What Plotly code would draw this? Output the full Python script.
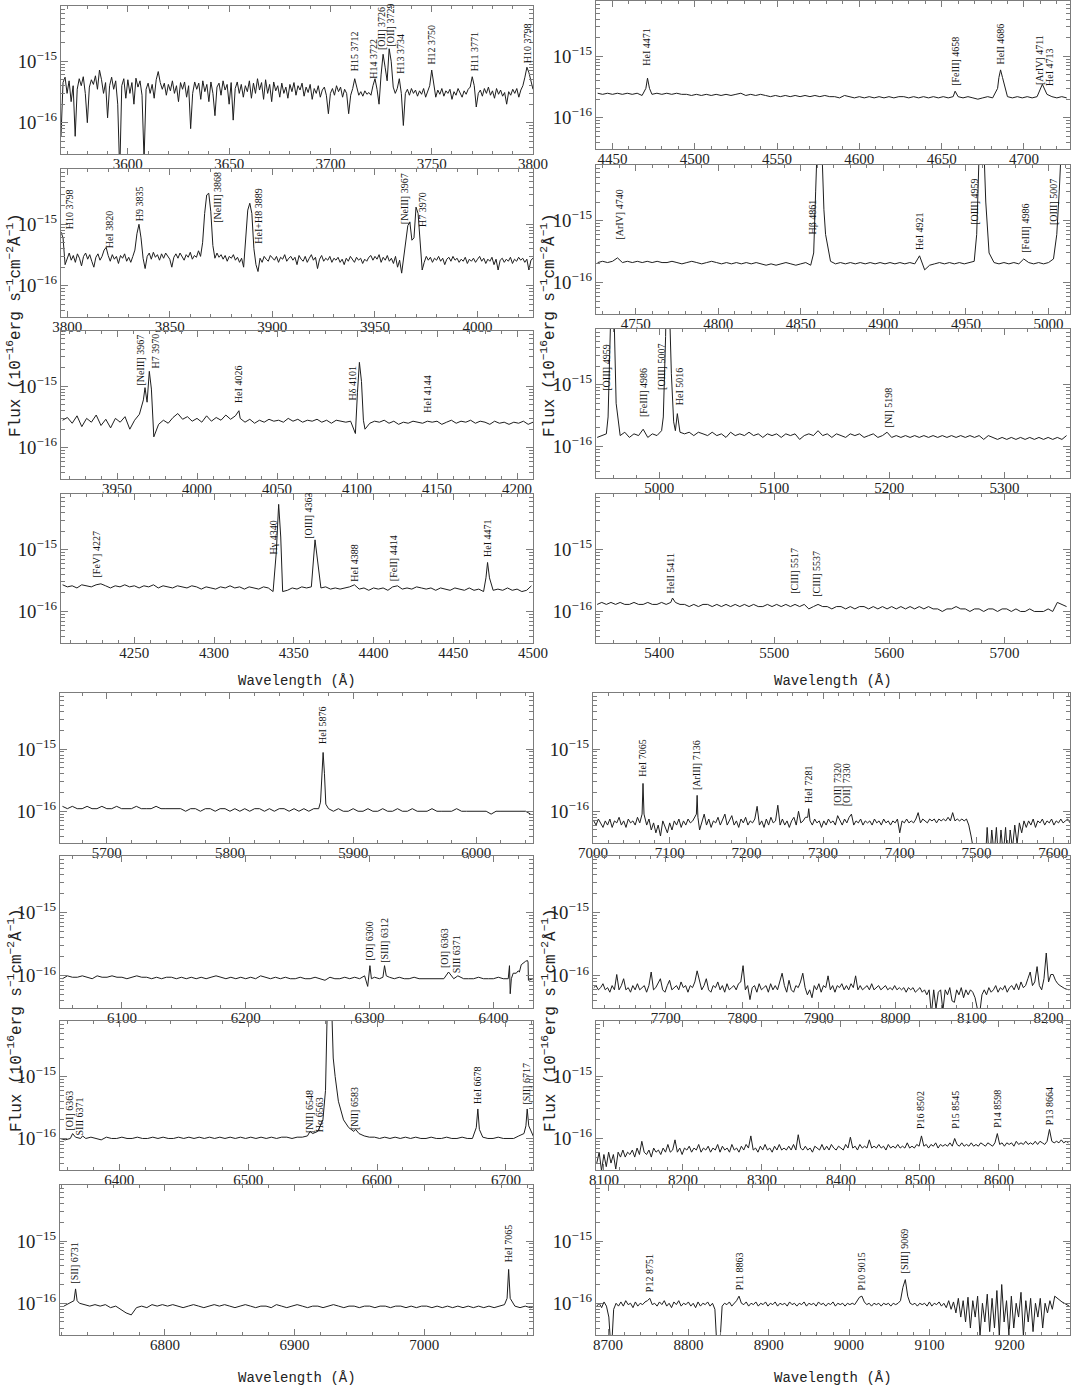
import numpy as np
import plotly.graph_objects as go

UNIT = 1e-17  # flux values below are in units of 1e-17 erg/s/cm2/A

# ---------------- Panel 1 (1 A sampling) ----------------
p01_range = [3567, 3800]
p01_w0, p01_dw = 3567, 1
p01_f = [6, 45, 55, 30, 48, 22, 40, 6, 35, 52, 40, 56, 30, 10, 38, 50, 42, 58, 35, 72,
         50, 30, 45, 12, 40, 55, 35, 48, 20, 1.5, 40, 52, 25, 50, 30, 45, 20, 53, 38, 48,
         28, 2.5, 35, 44, 30, 42, 25, 50, 68, 45, 35, 44, 28, 42, 33, 48, 30, 40, 22, 45,
         35, 46, 26, 40, 8, 30, 46, 35, 44, 24, 48, 32, 42, 22, 46, 30, 13, 38, 44, 28,
         48, 34, 42, 20, 45, 11, 36, 46, 30, 42, 26, 40, 32, 48, 25, 44, 30, 52, 34, 45,
         24, 50, 30, 42, 22, 46, 33, 40, 26, 44, 30, 38, 25, 42, 32, 45, 28, 40, 34, 44,
         27, 38, 31, 42, 24, 36, 30, 40, 26, 34, 38, 28, 14, 30, 36, 28, 40, 32, 38, 26,
         35, 30, 14, 28, 36, 52, 38, 28, 32, 27, 33, 29, 31, 28, 40, 52, 35, 20, 60, 130,
         80, 48, 160, 100, 38, 30, 36, 52, 30, 9, 30, 35, 28, 36, 30, 34, 27, 33, 29, 36,
         26, 32, 40, 72, 42, 26, 34, 29, 36, 27, 33, 30, 35, 24, 32, 28, 36, 30, 26, 33,
         29, 35, 38, 56, 40, 18, 30, 34, 27, 36, 30, 38, 28, 33, 25, 36, 29, 34, 27, 31,
         20, 32, 28, 35, 30, 36, 26, 34, 40, 55, 80, 65, 45, 35]
p01_xw = []
p01_xf = []
p01_lab = ["H15 3712", "H14 3722", "[OII] 3726", "[OII] 3729", "H13 3734", "H12 3750", "H11 3771", "H10 3798"]
p01_lab_w = [3712, 3721.5, 3725.6, 3729.6, 3734.5, 3750, 3771, 3797]
p01_lab_f = [6.3e-16, 4.8e-16, 1.4e-15, 1.6e-15, 5.9e-16, 8.1e-16, 6.3e-16, 8.6e-16]

# ---------------- Panel 2 (1 A sampling) ----------------
p02_range = [3797, 4027]
p02_w0, p02_dw = 3797, 1
p02_f = [75, 60, 22, 28, 34, 26, 31, 24, 33, 28, 21, 30, 34, 27, 32, 25, 20, 29, 33, 26,
         30, 38, 42, 31, 25, 32, 27, 30, 23, 31, 28, 33, 25, 29, 24, 30, 38, 70, 100, 60,
         28, 19, 30, 34, 27, 35, 29, 32, 26, 33, 28, 34, 30, 27, 20, 29, 33, 28, 34, 30,
         26, 32, 29, 35, 27, 31, 29, 37, 30, 50, 150, 300, 320, 160, 45, 28, 34, 29, 32, 27,
         31, 25, 30, 28, 32, 26, 29, 24, 28, 20, 60, 170, 220, 150, 40, 22, 17, 28, 24, 30,
         27, 25, 31, 28, 26, 30, 24, 29, 27, 32, 25, 28, 30, 26, 29, 22, 31, 27, 25, 30,
         24, 28, 32, 26, 29, 19, 27, 31, 25, 28, 26, 30, 24, 28, 26, 29, 24, 27, 22, 28,
         25, 30, 27, 24, 29, 26, 28, 23, 27, 25, 29, 31, 26, 30, 27, 32, 24, 29, 26, 31,
         25, 28, 23, 30, 20, 26, 16, 30, 60, 95, 108, 55, 60, 190, 150, 50, 18, 24, 30, 26,
         29, 24, 28, 26, 30, 25, 28, 22, 27, 29, 25, 30, 26, 28, 24, 27, 25, 29, 23, 27,
         25, 28, 24, 27, 30, 25, 28, 23, 27, 25, 29, 22, 27, 18, 26, 28, 24, 27, 25, 29,
         23, 27, 25, 29, 26, 28, 24, 27, 18, 26, 28]
p02_xw = []
p02_xf = []
p02_lab = ["H10 3798", "HeI 3820", "H9 3835", "[NeIII] 3868", "HeI+H8 3889", "[NeIII] 3967", "H7 3970"]
p02_lab_w = [3801.5, 3820.5, 3835, 3873.5, 3893.5, 3964.5, 3973.5]
p02_lab_f = [7.8e-16, 3.8e-16, 1.06e-15, 1.0e-15, 4.4e-16, 9.4e-16, 8.3e-16]

# ---------------- Panel 3 ----------------
p03_range = [3915, 4210]
p03_w0, p03_dw = 3916, 3
p03_f = [28, 31, 25, 33, 22, 30, 26, 34, 23, 29, 21, 30, 26, 32, 20, 28, 35, 60, 90, 15,
         24, 28, 25, 31, 36, 29, 32, 27, 30, 26, 33, 27, 31, 28, 34, 29, 33, 30, 26, 29,
         25, 28, 26, 29, 27, 28, 26, 30, 27, 29, 26, 28, 27, 29, 26, 28, 25, 28, 27, 26,
         27, 17, 120, 20, 25, 27, 26, 28, 25, 27, 24, 26, 25, 27, 26, 25, 27, 26, 27, 24,
         26, 28, 25, 27, 26, 28, 25, 27, 26, 24, 27, 25, 26, 24, 26, 25, 27, 24, 26]
p03_xw = [3966.5, 3967.5, 3968.8, 3970.2, 3971.5, 4026.2, 4100.3, 4101.5, 4102.8, 4104.0]
p03_xf = [60, 95, 55, 175, 90, 40, 80, 245, 120, 28]
p03_lab = ["[NeIII] 3967", "H7 3970", "HeI 4026", "H\u03b4 4101", "HeI 4144"]
p03_lab_w = [3964.5, 3974, 4025.5, 4097, 4144]
p03_lab_f = [9.4e-16, 1.8e-15, 4.9e-16, 5.5e-16, 3.5e-16]

# ---------------- Panel 4 ----------------
p04_range = [4204, 4500]
p04_w0, p04_dw = 4205, 3
p04_f = [27, 25, 26, 24, 27, 26, 25, 27, 28, 26, 24, 26, 25, 27, 25, 26, 24, 26, 25, 27,
         24, 26, 25, 24, 26, 25, 24, 26, 25, 23, 25, 24, 23, 25, 24, 26, 24, 25, 23, 25,
         24, 23, 25, 24, 21, 200, 21, 22, 24, 23, 25, 24, 25, 60, 24, 25, 23, 24, 23, 24,
         25, 27, 23, 24, 22, 24, 23, 24, 22, 25, 26, 23, 24, 23, 25, 24, 23, 24, 22, 24,
         23, 22, 24, 23, 22, 24, 22, 23, 21, 40, 22, 23, 22, 24, 22, 23, 21, 22, 26]
p04_xw = [4339.0, 4340.5, 4341.8, 4362.2, 4363.3, 4470.5, 4471.5, 4472.7]
p04_xf = [90, 540, 160, 60, 144, 35, 62, 35]
p04_lab = ["[FeV] 4227", "H\u03b3 4340", "[OIII] 4363", "HeI 4388", "[FeII] 4414", "HeI 4471"]
p04_lab_w = [4226, 4337, 4359, 4388, 4413, 4471]
p04_lab_f = [3.3e-16, 7.8e-16, 1.4e-15, 2.85e-16, 2.9e-16, 7.0e-16]

# ---------------- Panel 5 ----------------
p05_range = [4440, 4728]
p05_w0, p05_dw = 4441, 3
p05_f = [25, 24, 25, 24, 25, 24, 25, 24, 25, 23, 30, 24, 25, 24, 25, 24, 25, 24, 24, 23,
         24, 23, 24, 23, 24, 23, 24, 23, 24, 25, 23, 24, 23, 24, 23, 22, 23, 22, 23, 22,
         23, 22, 23, 22, 23, 22, 23, 22, 22, 21, 23, 22, 21, 22, 21, 22, 21, 22, 21, 22,
         21, 22, 22, 21, 22, 21, 22, 21, 22, 21, 22, 21, 22, 22, 21, 22, 21, 20, 21, 22,
         21, 30, 40, 22, 21, 22, 21, 22, 21, 22, 30, 24, 22, 21, 22, 21]
p05_xw = [4470.3, 4471.3, 4472.5, 4658.2, 4684.8, 4685.8, 4687.0, 4711.2, 4713.2]
p05_xf = [30, 44, 30, 27, 45, 60, 45, 35, 27]
p05_lab = ["HeI 4471", "[FeIII] 4658", "HeII 4686", "[ArIV] 4711", "HeI 4713"]
p05_lab_w = [4471, 4658, 4686, 4709.5, 4715.5]
p05_lab_f = [6.5e-16, 3.1e-16, 6.9e-16, 3.1e-16, 3.1e-16]

# ---------------- Panel 6 ----------------
p06_range = [4726, 5013]
p06_w0, p06_dw = 4727, 3
p06_f = [21, 22, 21, 22, 25, 21, 22, 21, 22, 21, 22, 21, 22, 21, 21, 22, 21, 20, 21, 22,
         21, 20, 21, 22, 21, 20, 21, 20, 21, 20, 21, 20, 21, 20, 19, 20, 19, 20, 21, 20,
         19, 20, 21, 19, 300, 2000, 60, 22, 20, 21, 20, 21, 20, 21, 20, 21, 20, 21, 20, 21,
         20, 21, 20, 21, 20, 24, 16, 19, 20, 21, 20, 21, 20, 21, 20, 21, 22, 800, 600, 30,
         21, 20, 21, 20, 21, 20, 24, 21, 20, 21, 20, 21, 24, 200, 3000, 8000]
p06_xw = [4857.8, 4860.0, 4861.3, 4862.6, 4864.0, 4921.9, 4956.5, 4957.8, 4959.0, 4960.3, 4962.0,
          5005.0, 5006.5, 5008.0, 5010.0]
p06_xf = [30, 2000, 20000, 2000, 150, 27, 60, 800, 10000, 4000, 200, 60, 300, 3000, 30000]
p06_lab = ["[ArIV] 4740", "H\u03b2 4861", "HeI 4921", "[OIII] 4959", "[FeIII] 4986", "[OIII] 5007"]
p06_lab_w = [4740, 4857, 4921.5, 4955, 4986, 5003]
p06_lab_f = [4.6e-16, 5.5e-16, 3.1e-16, 8.0e-16, 2.8e-16, 8.0e-16]

# ---------------- Panel 7 ----------------
p07_range = [4945, 5357]
p07_w0, p07_dw = 4946, 4
p07_f = [14, 15, 16, 300, 40, 15, 17, 14, 16, 15, 19, 14, 16, 15, 18, 400, 600, 18, 17, 16,
         17, 15, 17, 16, 15, 17, 15, 16, 14, 17, 15, 16, 15, 17, 15, 16, 14, 16, 15, 16,
         14, 16, 15, 16, 13, 15, 16, 15, 18, 15, 16, 14, 16, 15, 14, 16, 15, 16, 14, 15,
         16, 14, 15, 17, 14, 15, 14, 15, 14, 15, 14, 15, 14, 15, 14, 15, 14, 15, 14, 15,
         14, 15, 14, 15, 13, 15, 14, 13, 14, 13, 14, 13, 14, 13, 14, 13, 14, 13, 14, 13,
         14, 13, 15]
p07_xw = [4955.5, 4957.5, 4959.0, 4960.5, 4962.5, 5003.5, 5005.5, 5007.0, 5008.5, 5010.5, 5012.5, 5015.7]
p07_xf = [30, 500, 10000, 2000, 50, 30, 600, 30000, 3000, 150, 25, 34]
p07_lab = ["[OIII] 4959", "[FeIII] 4986", "[OIII] 5007", "HeI 5016", "[NI] 5198"]
p07_lab_w = [4954, 4986.5, 5002, 5017, 5199]
p07_lab_f = [7.5e-16, 2.8e-16, 7.5e-16, 4.3e-16, 1.9e-16]

# ---------------- Panel 8 ----------------
p08_range = [5345, 5757]
p08_w0, p08_dw = 5346, 4
p08_f = [13, 14, 13, 14, 13, 14, 13, 13, 14, 13, 13, 14, 13, 13, 14, 13, 14, 14, 13, 13,
         12, 13, 12, 13, 13, 12, 13, 12, 13, 12, 13, 12, 13, 12, 13, 12, 12, 13, 12, 13,
         12, 13, 12, 13, 12, 13, 11, 12, 13, 12, 12, 11, 12, 12, 11, 12, 11, 12, 12, 11,
         12, 11, 12, 11, 12, 11, 12, 11, 12, 11, 12, 11, 12, 11, 11, 10, 11, 11, 12, 11,
         11, 10, 11, 11, 10, 11, 11, 10, 11, 11, 10, 11, 10, 10, 11, 10, 10, 10, 11, 10,
         14, 13, 12]
p08_xw = [5411.5]
p08_xf = [16.5]
p08_lab = ["HeII 5411", "[CIII] 5517", "[CIII] 5537"]
p08_lab_w = [5410, 5518, 5537]
p08_lab_f = [1.8e-16, 1.8e-16, 1.6e-16]

# ---------------- Panel 9 ----------------
p09_range = [5662, 6046]
p09_w0, p09_dw = 5664, 4
p09_f = [12, 11, 12, 11, 11, 12, 11, 11, 12, 11, 11, 12, 11, 11, 11, 12, 11, 11, 11, 12,
         11, 11, 11, 11, 11, 10, 11, 11, 10, 11, 11, 10, 11, 11, 10, 11, 10, 11, 10, 11,
         11, 10, 11, 10, 11, 11, 10, 11, 10, 11, 10, 11, 11, 11, 11, 10, 11, 10, 10, 11,
         10, 10, 11, 10, 10, 11, 10, 10, 11, 10, 10, 11, 10, 10, 10, 11, 10, 10, 10, 10,
         11, 10, 10, 10, 10, 10, 10, 9, 10, 10, 10, 10, 10, 10, 10, 9]
p09_xw = [5873.5, 5874.6, 5875.6, 5876.7, 5877.8]
p09_xf = [14, 40, 88, 40, 13]
p09_lab = ["HeI 5876"]
p09_lab_w = [5875]
p09_lab_f = [1.13e-15]

# ---------------- Panel 10 (3 A sampling) ----------------
p10_range = [7000, 7622]
p10_w0, p10_dw = 7001, 3
p10_f = [7, 6, 7.5, 6.5, 5.5, 7, 6, 7.5, 5.5, 7, 6.5, 8, 6, 7, 5.5, 7.5, 6.5, 7, 6, 8,
         6.5, 10, 7, 6, 7.5, 5, 6.5, 4.5, 6, 4, 7, 5.5, 4.5, 6.5, 5, 7, 6, 7.5, 5.5, 7,
         6, 7.5, 6.5, 7, 8, 17, 5, 6.5, 9, 6, 7.5, 5.5, 7, 6.5, 8, 6, 7.5, 9, 6, 7,
         8.5, 6, 7, 5.5, 7.5, 6.5, 8, 6, 7, 6.5, 7.5, 12, 6, 7, 5.5, 7.5, 6, 8, 6.5, 7,
         12.5, 6, 7.5, 6, 7, 5.5, 7, 8, 6, 10, 6.5, 7, 8, 8, 7, 6, 7.5, 6.5, 7, 5.5,
         7, 6, 7.5, 6.5, 7, 6, 8.5, 7, 6, 7.5, 6.5, 8, 9, 6, 7, 6.5, 7.5, 6, 7, 6.5,
         7, 6, 7.5, 6.5, 7, 6, 7.5, 6.5, 7, 6, 7, 6.5, 7.5, 4.5, 7, 6.5, 7.5, 6.5, 7, 6.5,
         7.5, 9.5, 6.5, 7.5, 7, 6.5, 7.5, 7, 7.5, 6.5, 7.5, 7, 7.5, 7, 8, 7, 9.5, 7, 7.5, 7,
         7.5, 7, 7.5, 6, 4, 2, 1.5, 2, 1.2, 1.5, 1.2, 5.5, 1.5, 5, 2, 5.5, 1.5, 5, 2, 5.5,
         1.5, 5, 2.5, 6, 3, 6.5, 4.5, 7, 5.5, 7, 6, 7.5, 5.5, 7, 6.5, 7.5, 6, 7, 6.5, 7.5,
         6, 7, 6.5, 7.5, 6.5, 7, 7.5, 6.5]
p10_xw = [7064.0, 7065.2, 7066.5, 7134.8, 7135.8, 7136.8, 7281.3]
p10_xf = [9, 28, 9, 9, 18, 8, 11]
p10_lab = ["HeI 7065", "[ArIII] 7136", "HeI 7281", "[OII] 7320", "[OII] 7330"]
p10_lab_w = [7065, 7135, 7281, 7319, 7331]
p10_lab_f = [3.3e-16, 2.0e-16, 1.28e-16, 1.13e-16, 1.13e-16]

# ---------------- Panel 11 ----------------
p11_range = [6050, 6432]
p11_w0, p11_dw = 6052, 4
p11_f = [9, 10, 9.5, 9.5, 10, 9.5, 9, 10, 9.5, 9.5, 10, 9.5, 9.5, 9, 9.5, 10, 9.5, 9.5, 9, 9.5,
         9, 9.5, 9.5, 9, 9.5, 9, 9.5, 9, 9.5, 9, 9.5, 10, 9.5, 9, 9.5, 9, 9.5, 9, 9.5, 9,
         10, 9.5, 9, 9.5, 9, 9.5, 9, 9, 9.5, 9, 9, 9.5, 9, 8.5, 9.5, 9, 9, 9.5, 9, 9.5,
         9, 10, 9, 9.5, 9, 9, 9.5, 9, 9.5, 9, 9, 9.5, 9, 9, 9, 9, 9, 9, 9, 9,
         9.5, 9, 9, 9, 9.5, 9, 9, 9, 9.5, 9, 9, 11, 12, 16, 9, 9]
p11_xw = [6298.5, 6300.3, 6301.5, 6310.8, 6312.1, 6313.5, 6363.8, 6371.3, 6413.0, 6413.6, 6414.5,
          6418.5, 6421.0, 6422.5, 6426.0, 6427.5, 6428.0, 6428.3]
p11_xf = [6.8, 14.5, 9, 9.5, 14.5, 10, 11.5, 10, 14.5, 5.2, 9, 11, 11.5, 15, 17, 17.5, 16.5, 8.5]
p11_lab = ["[OI] 6300", "[SIII] 6312", "[OI] 6363", "SIII 6371"]
p11_lab_w = [6300, 6312, 6361, 6370]
p11_lab_f = [1.58e-16, 1.49e-16, 1.24e-16, 1.03e-16]

# ---------------- Panel 12 (3 A sampling) ----------------
p12_range = [7605, 8228]
p12_w0, p12_dw = 7606, 3
p12_f = [6.5, 7, 6, 6.5, 7.5, 6, 6.5, 5.5, 7, 6, 10.5, 6, 7, 9, 6, 6.5, 5.5, 7, 6, 7.5,
         6, 6.5, 7, 5.5, 7, 11.5, 6, 6.5, 7.5, 9, 6, 5.5, 7, 8.5, 6, 6.5, 7, 6, 8, 6.5,
         7, 5.5, 7, 6.5, 8, 12, 8, 6, 7, 9, 6, 5.5, 7, 6.5, 8, 6, 7, 5.5, 7.5, 6,
         6.5, 7, 6, 7.5, 8, 14.5, 6, 7, 4.2, 6.5, 7, 5.5, 7.5, 6, 6.5, 7, 5.5, 7.5, 6, 7,
         6, 8, 11, 7, 5.5, 8.5, 6, 5.5, 7, 6.5, 8, 11, 6.5, 5, 6, 4.5, 7, 6, 7.5, 5.5,
         7, 6.5, 10, 6, 7, 5.5, 7, 6.5, 7.5, 6, 7, 6, 7.5, 6.5, 10, 6, 7, 6, 6.5, 7,
         6, 7.5, 6, 6.5, 7, 6, 6.5, 7, 6, 6.5, 6, 7, 6, 6.5, 6, 6.5, 5.5, 6.5, 6, 6.5,
         5.5, 6, 6.5, 5.5, 6, 5, 6, 2.5, 6, 3, 5.5, 6, 2.8, 6, 5, 6.5, 4, 3.8, 6, 5,
         6.5, 4.5, 6, 5, 6, 5.5, 4.5, 3, 2.5, 5, 6, 5, 6.5, 5.5, 6, 7, 5.5, 6.5, 6, 7,
         5.5, 6.5, 7, 6, 7.5, 6, 8, 6.5, 7, 9, 11.5, 7, 8, 14, 7, 6, 9, 23, 8, 10.5,
         10.5, 8.5, 7.5, 7, 6.6, 6.3, 6.1, 6]
p12_xw = []
p12_xf = []
p12_lab = []
p12_lab_w = []
p12_lab_f = []

# ---------------- Panel 13 ----------------
p13_range = [6354, 6721]
p13_w0, p13_dw = 6346, 4
p13_f = [10, 10.5, 10, 9.5, 10, 10.5, 10, 10, 10.5, 10, 9.5, 10.5, 10, 10, 10.5, 10, 10, 10.5, 10, 10,
         10.5, 10, 10.5, 10, 10, 10.5, 10, 10.5, 10, 10.5, 10, 10.5, 10, 10.5, 10, 10.5, 10, 10.5, 10, 10.5,
         10, 10.5, 10, 10.5, 10, 10.5, 10.5, 10, 10.5, 10.5, 11, 12, 13, 20, 500, 200, 40, 20, 15, 13,
         12, 11, 10.5, 10.5, 10, 10.5, 10, 10.5, 10, 10.5, 10, 10.5, 10, 10, 10.5, 10, 10, 10.5, 10, 10,
         10.5, 10, 10, 10, 10.5, 10, 10, 10.5, 10, 10, 10, 11, 12, 11, 10]
p13_xw = [6363.8, 6371.5, 6548.0, 6560.0, 6561.5, 6562.8, 6564.3, 6567.5, 6583.4,
          6677.0, 6678.2, 6679.4, 6715.5, 6716.5, 6717.7]
p13_xf = [12, 11, 13, 60, 2000, 30000, 3000, 100, 14, 15, 30, 14, 16, 30, 16]
p13_lab = ["[OI] 6363", "SIII 6371", "[NII] 6548", "H\u03b1 6563", "[NII] 6583", "HeI 6678", "[SII] 6717"]
p13_lab_w = [6361, 6369, 6547, 6555, 6583, 6678, 6716]
p13_lab_f = [1.25e-16, 1.05e-16, 1.15e-16, 1.15e-16, 1.25e-16, 3.3e-16, 3.3e-16]

# ---------------- Panel 14 (3 A sampling) ----------------
p14_range = [8090, 8690]
p14_w0, p14_dw = 8091, 3
p14_f = [4, 6, 3, 5.5, 3.5, 6, 4, 5.5, 3.2, 6, 5, 6.5, 5, 6, 5.5, 6.5, 5, 7, 5.5, 9,
         6, 5.5, 6.5, 5, 7, 6, 6.5, 5.5, 7, 6, 8, 6, 6.5, 9.5, 6, 7, 5.5, 7, 6.5, 7.5,
         6, 7, 6.5, 8, 6, 7, 6.5, 7.5, 6, 7, 6.5, 8, 6, 7.5, 6.5, 7, 6, 8, 6.5, 7,
         6, 7.5, 6.5, 8, 7, 11, 6.5, 7, 6, 7.5, 6.5, 8, 6.5, 7, 6, 7.5, 6.5, 8, 6.5, 7,
         6.5, 7.5, 6.5, 8, 6.5, 11.5, 7, 6.5, 7.5, 6.5, 7, 6, 7.5, 7, 6.5, 8, 6.5, 7.5, 6.5, 8,
         7, 6.5, 7.5, 7, 6.5, 8, 7, 10.5, 7, 7.5, 6.5, 8, 7, 7.5, 7, 9.5, 7, 7.5, 7, 8,
         7, 7.5, 6.5, 8, 7, 7.5, 7, 8, 7, 7.5, 7, 8.5, 7, 7.5, 7, 8, 7.5, 11, 7.5, 8,
         7, 8, 7.5, 8.5, 7, 8, 7.5, 8, 7.5, 8.5, 7.5, 10, 8, 7.5, 8.5, 7.5, 8, 7.5, 8.5, 7.5,
         8, 7.5, 8.5, 8, 7.5, 8.5, 8, 7.5, 8.5, 12, 8, 8.5, 7.5, 8.5, 8, 8.5, 7.5, 9, 8, 8.5,
         8, 9, 8, 8.5, 8, 9, 8, 9, 8.5, 8, 9, 14, 9, 8.5, 9, 8.5, 9.5, 8.5, 9, 8.5]
p14_xw = []
p14_xf = []
p14_lab = ["P16 8502", "P15 8545", "P14 8598", "P13 8664"]
p14_lab_w = [8501, 8545, 8598, 8664]
p14_lab_f = [1.3e-16, 1.35e-16, 1.4e-16, 1.55e-16]

# ---------------- Panel 15 ----------------
p15_range = [6719, 7084]
p15_w0, p15_dw = 6722, 4
p15_f = [9, 10, 10, 10, 9.5, 9, 9.5, 9, 9.5, 8.5, 9, 8, 7, 6.5, 8.5, 9, 8.5, 9.5, 9, 9.5,
         9, 9.5, 9, 8.5, 9, 9.5, 9, 8.5, 9, 9.5, 9, 9.5, 9, 8.5, 9, 9.5, 9, 8.5, 9, 9,
         8.5, 9.5, 9, 8.5, 9, 9.5, 9, 8.5, 9, 9, 8.5, 9, 9.5, 9, 8.5, 9, 9, 8.5, 9, 9,
         8.5, 9, 9, 8.5, 9, 9, 8.5, 9, 8.5, 9, 9, 8.5, 9, 8.5, 9, 8.5, 9, 8.5, 9, 8.5,
         9, 8.5, 9, 8.5, 9, 9.5, 9, 9, 8.5, 9, 8.5, 9, 8.5]
p15_xw = [6729.8, 6731.0, 6732.2, 7064.0, 7065.2, 7066.4]
p15_xf = [11, 17, 11, 12, 35, 12]
p15_lab = ["[SII] 6731", "HeI 7065"]
p15_lab_w = [6730, 7065]
p15_lab_f = [1.9e-16, 4.3e-16]

# ---------------- Panel 16 (3 A sampling) ----------------
p16_range = [8685, 9275]
p16_w0, p16_dw = 8686, 3
p16_f = [9, 10, 8.5, 10.5, 9, 6, 1.5, 8, 10, 9, 10.5, 9, 11, 9.5, 10, 8.5, 10.5, 9, 10, 9.5,
         10.5, 11, 12, 9.5, 10, 9, 10.5, 9.5, 11, 9, 10, 8.5, 10.5, 9.5, 11, 9, 10, 9.5, 10.5, 9,
         10, 8.5, 10.5, 9, 10, 9.5, 10.5, 9, 10, 8, 1.5, 2, 9, 10, 9.5, 10.5, 9, 10, 11, 13,
         10, 9.5, 10.5, 9, 10, 9.5, 10.5, 9, 10, 9.5, 10.5, 9, 10, 9.5, 10.5, 9, 10, 9.5, 10, 9,
         10.5, 9.5, 10, 9, 10, 9.5, 10.5, 9, 10, 9.5, 10, 9, 10.5, 9.5, 10, 9, 10, 9.5, 10.5, 9,
         10, 9.5, 10, 9, 10, 9.5, 10, 9.5, 11, 12.5, 13, 10.5, 9.5, 10, 9, 10, 9.5, 10, 9, 10,
         9.5, 10, 9, 10, 9.5, 10, 11, 18, 24, 13, 10, 9.5, 10, 9, 10, 9.5, 10, 9, 10.5, 9,
         10, 9.5, 10.5, 9, 10, 8.5, 11, 8, 10.5, 7, 12, 6, 11, 5, 12.5, 4, 11, 6, 13, 3,
         10, 5, 14, 3.5, 12, 4, 16, 3, 20, 5, 11, 3, 13, 4, 10, 6, 15, 3, 11, 5,
         12, 3.5, 10, 6, 12, 4, 10, 7, 11, 8, 13, 12, 11, 10.5, 10, 9.5, 9]
p16_xw = []
p16_xf = []
p16_lab = ["P12 8751", "P11 8863", "P10 9015", "[SIII] 9069"]
p16_lab_w = [8751, 8863, 9015, 9069]
p16_lab_f = [1.4e-16, 1.5e-16, 1.5e-16, 2.8e-16]

# panel order / major-minor x tick spacing (A)
panel_data = [
    (p01_range, p01_w0, p01_dw, p01_f, p01_xw, p01_xf, p01_lab, p01_lab_w, p01_lab_f, 50, 10),
    (p02_range, p02_w0, p02_dw, p02_f, p02_xw, p02_xf, p02_lab, p02_lab_w, p02_lab_f, 50, 10),
    (p03_range, p03_w0, p03_dw, p03_f, p03_xw, p03_xf, p03_lab, p03_lab_w, p03_lab_f, 50, 10),
    (p04_range, p04_w0, p04_dw, p04_f, p04_xw, p04_xf, p04_lab, p04_lab_w, p04_lab_f, 50, 10),
    (p05_range, p05_w0, p05_dw, p05_f, p05_xw, p05_xf, p05_lab, p05_lab_w, p05_lab_f, 50, 10),
    (p06_range, p06_w0, p06_dw, p06_f, p06_xw, p06_xf, p06_lab, p06_lab_w, p06_lab_f, 50, 10),
    (p07_range, p07_w0, p07_dw, p07_f, p07_xw, p07_xf, p07_lab, p07_lab_w, p07_lab_f, 100, 20),
    (p08_range, p08_w0, p08_dw, p08_f, p08_xw, p08_xf, p08_lab, p08_lab_w, p08_lab_f, 100, 20),
    (p09_range, p09_w0, p09_dw, p09_f, p09_xw, p09_xf, p09_lab, p09_lab_w, p09_lab_f, 100, 20),
    (p10_range, p10_w0, p10_dw, p10_f, p10_xw, p10_xf, p10_lab, p10_lab_w, p10_lab_f, 100, 20),
    (p11_range, p11_w0, p11_dw, p11_f, p11_xw, p11_xf, p11_lab, p11_lab_w, p11_lab_f, 100, 20),
    (p12_range, p12_w0, p12_dw, p12_f, p12_xw, p12_xf, p12_lab, p12_lab_w, p12_lab_f, 100, 20),
    (p13_range, p13_w0, p13_dw, p13_f, p13_xw, p13_xf, p13_lab, p13_lab_w, p13_lab_f, 100, 20),
    (p14_range, p14_w0, p14_dw, p14_f, p14_xw, p14_xf, p14_lab, p14_lab_w, p14_lab_f, 100, 20),
    (p15_range, p15_w0, p15_dw, p15_f, p15_xw, p15_xf, p15_lab, p15_lab_w, p15_lab_f, 100, 20),
    (p16_range, p16_w0, p16_dw, p16_f, p16_xw, p16_xf, p16_lab, p16_lab_w, p16_lab_f, 100, 20),
]

# panel boxes in pixels: x0, x1, ytop, ybottom
W, H = 1071, 1387
boxes = [
    (61, 533, 6, 154), (61, 533, 169, 317), (61, 533, 331, 479), (61, 533, 494, 643),
    (596, 1070, 1, 149), (596, 1070, 165, 314), (596, 1070, 329, 478), (596, 1070, 494, 643),
    (60, 533, 693, 843), (593, 1070, 693, 843), (60, 533, 856, 1008), (593, 1070, 856, 1008),
    (60, 533, 1021, 1170), (596, 1070, 1021, 1170), (60, 533, 1185, 1335), (596, 1070, 1185, 1335),
]
YRANGE = [-16.51, -14.1]

SERIF = "Liberation Serif"
MONO = "Liberation Mono"
FRAME = "#7c7c7c"


def build_spectrum(w0, dw, f, xw, xf):
    w = w0 + dw * np.arange(len(f))
    f = np.asarray(f, dtype=float)
    xw = np.asarray(xw, dtype=float)
    xf = np.asarray(xf, dtype=float)
    if len(xw):
        keep = np.array([np.min(np.abs(xw - wi)) >= 0.75 for wi in w])
    else:
        keep = np.ones(len(w), bool)
    ww = np.concatenate([w[keep], xw])
    ff = np.concatenate([f[keep], xf])
    o = np.argsort(ww)
    return ww[o], ff[o] * UNIT


fig = go.Figure()
annotations = []
layout = {}
for i, (pd_, box) in enumerate(zip(panel_data, boxes)):
    rng, w0, dw, f, xw, xf, lab, lab_w, lab_f, major, minor = pd_
    n = i + 1
    xa = "x" if n == 1 else f"x{n}"
    ya = "y" if n == 1 else f"y{n}"
    wl, fl = build_spectrum(w0, dw, f, xw, xf)
    fig.add_trace(go.Scatter(x=wl, y=fl, mode="lines", xaxis=xa, yaxis=ya,
                             line=dict(color="#1e1e1e", width=1), showlegend=False,
                             hoverinfo="skip"))
    x0, x1, yt, yb = box
    common = dict(showline=True, linecolor=FRAME, linewidth=1, mirror="allticks",
                  ticks="inside", tickcolor=FRAME, showgrid=False, zeroline=False,
                  automargin=False,
                  tickfont=dict(family=SERIF, size=15, color="#222"))
    layout["xaxis" if n == 1 else f"xaxis{n}"] = dict(
        domain=[x0 / W, x1 / W], range=rng, anchor=ya, dtick=major, tick0=0,
        ticklen=6, ticklabelstandoff=-4,
        minor=dict(ticks="inside", dtick=minor, ticklen=3, tickcolor=FRAME),
        **common)
    layout["yaxis" if n == 1 else f"yaxis{n}"] = dict(
        domain=[1 - yb / H, 1 - yt / H], range=YRANGE, type="log", anchor=xa, dtick=1,
        exponentformat="power", ticklen=7,
        minor=dict(ticks="inside", dtick="D1", ticklen=4, tickcolor=FRAME), **common)
    for t, lw, lf in zip(lab, lab_w, lab_f):
        annotations.append(dict(x=lw, y=np.log10(lf), xref=xa, yref=ya, text=t,
                                textangle=-90, showarrow=False, xanchor="center",
                                yanchor="bottom", font=dict(family=SERIF, size=10, color="#111")))

ytitle = "Flux (10<sup>\u221216</sup>erg s<sup>\u22121</sup>cm<sup>\u22122</sup>\u00c5<sup>\u22121</sup>)"
for xp, yp in [(15, 325), (549, 325), (15, 1020), (549, 1020)]:
    annotations.append(dict(x=xp / W, y=1 - yp / H, xref="paper", yref="paper", text=ytitle,
                            textangle=-90, showarrow=False, xanchor="center", yanchor="middle",
                            font=dict(family=MONO, size=16, color="#222")))
for xp, yp in [(297, 681), (833, 681), (297, 1378), (833, 1378)]:
    annotations.append(dict(x=xp / W, y=1 - yp / H, xref="paper", yref="paper",
                            text="Wavelength (\u00c5)", showarrow=False, xanchor="center",
                            yanchor="middle", font=dict(family=MONO, size=14, color="#222")))

fig.update_layout(width=W, height=H, margin=dict(l=0, r=0, t=0, b=0, autoexpand=False),
                  paper_bgcolor="white", plot_bgcolor="white", showlegend=False,
                  annotations=annotations, **layout)
fig.write_html("out.html", config={"displayModeBar": False},
               post_script="document.body.style.margin='0px';document.body.style.overflow='hidden';")
